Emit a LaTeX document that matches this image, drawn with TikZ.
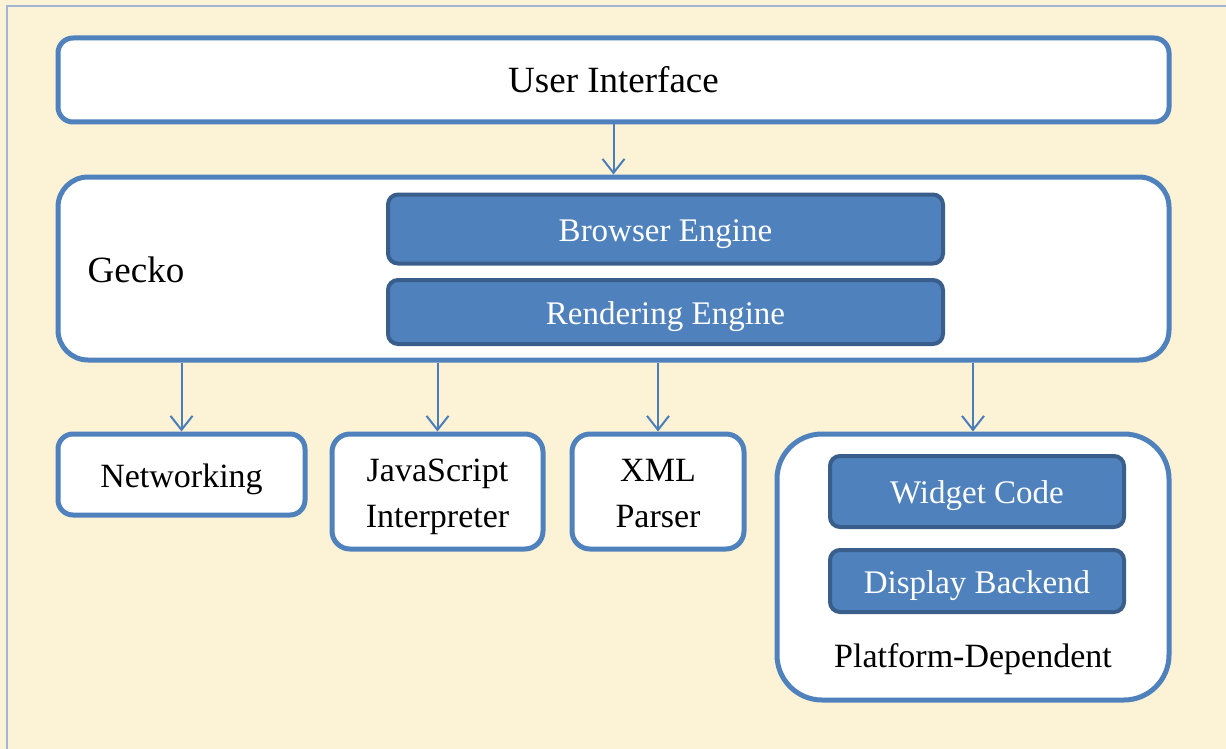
\documentclass[tikz,border=0pt]{standalone}
\usepackage{fontspec}
\setmainfont{Liberation Serif}
\usetikzlibrary{arrows.meta}
\definecolor{bgc}{RGB}{252,242,214}
\definecolor{frame}{RGB}{160,182,212}
\definecolor{outl}{RGB}{79,129,189}
\definecolor{darkl}{RGB}{58,94,140}
\definecolor{arrc}{RGB}{74,126,187}
\tikzset{
  whitebox/.style={draw=outl, line width=5pt, fill=white, inner sep=0pt, align=center},
  bluebox/.style={draw=darkl, line width=4pt, fill=outl, rounded corners=10pt, inner sep=0pt, text=white, font=\fontsize{33}{39}\selectfont, text height=24pt, text depth=0pt},
  lbl/.style={inner sep=0pt, align=center},
  arr/.style={draw=arrc, line width=2pt, -{Straight Barb[length=14pt,width=22pt,line width=2pt]}}
}
\begin{document}
\begin{tikzpicture}[x=1pt,y=-1pt]
\useasboundingbox (0,0) rectangle (1226,749);
\fill[bgc] (0,0) rectangle (1226,749);
\draw[frame, line width=2pt] (1240,6) -- (7,6) -- (7,760);
% User Interface
\node[whitebox, rounded corners=15pt, minimum width=1111pt, minimum height=84pt, font=\fontsize{37}{44}\selectfont] (ui) at (613.5,80) {User Interface};
% Gecko
\node[whitebox, rounded corners=30pt, minimum width=1111pt, minimum height=183pt] (gecko) at (613.5,268.5) {};
\node[lbl, font=\fontsize{37}{44}\selectfont] (geckolbl) at (136,270) {Gecko};
\node[bluebox, minimum width=555pt, minimum height=69pt] (be) at (665.5,229) {Browser Engine};
\node[bluebox, minimum width=555pt, minimum height=64pt] (re) at (665.5,312) {Rendering Engine};
% lower boxes
\node[whitebox, rounded corners=15pt, minimum width=247pt, minimum height=81pt, font=\fontsize{34}{46}\selectfont, text height=25.6pt, text depth=0pt] (net) at (181.5,474.5) {Networking};
\node[whitebox, rounded corners=18pt, minimum width=211pt, minimum height=115pt, font=\fontsize{34}{46}\selectfont, text height=71.5pt, text depth=0pt] (js) at (437.5,491.5) {JavaScript\\Interpreter};
\node[whitebox, rounded corners=18pt, minimum width=172pt, minimum height=115pt, font=\fontsize{34}{46}\selectfont, text height=71.5pt, text depth=0pt] (xml) at (658,491.5) {XML\\Parser};
\node[whitebox, rounded corners=45pt, minimum width=392pt, minimum height=266pt] (plat) at (973,567) {};
\node[bluebox, minimum width=294pt, minimum height=71pt] (wc) at (977,491.5) {Widget Code};
\node[bluebox, minimum width=294pt, minimum height=62pt] (db) at (977,581) {Display Backend};
\node[lbl, font=\fontsize{34}{40}\selectfont, text height=21.5pt, text depth=0pt] (platlbl) at (973,657) {Platform-Dependent};
% arrows
\draw[arr] (ui.south) -- (gecko.north);
\draw[arr] (net.north |- gecko.south) -- (net.north);
\draw[arr] (js.north |- gecko.south) -- (js.north);
\draw[arr] (xml.north |- gecko.south) -- (xml.north);
\draw[arr] (plat.north |- gecko.south) -- (plat.north);
\end{tikzpicture}
\end{document}
